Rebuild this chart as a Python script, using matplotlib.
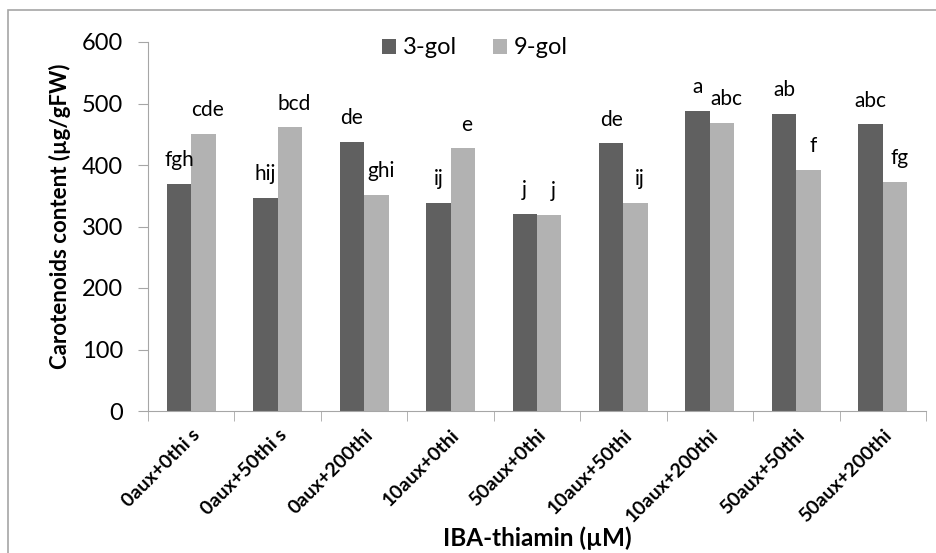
import matplotlib
matplotlib.use("Agg")
import matplotlib.pyplot as plt
from matplotlib.patches import Rectangle
import numpy as np

plt.rcParams['font.family'] = ['Lato', 'DejaVu Sans']

categories = ["0aux+0thi s", "0aux+50thi s", "0aux+200thi", "10aux+0thi", "50aux+0thi",
              "10aux+50thi", "10aux+200thi", "50aux+50thi", "50aux+200thi"]
gol3 = [369, 346, 438, 338, 321, 435, 488, 483, 466]
gol9 = [450, 461, 352, 427, 319, 338, 469, 392, 373]
letters3 = ["fgh", "hij", "de", "ij", "j", "de", "a", "ab", "abc"]
letters9 = ["cde", "bcd", "ghi", "e", "j", "ij", "abc", "f", "fg"]

dark = "#606060"
light = "#b2b2b2"
axis_grey = "#a6a6a6"

fig = plt.figure(figsize=(9.36, 5.53), dpi=100)
ax = fig.add_axes([148 / 936, 1 - 411 / 553, 778 / 936, 369 / 553])

# outer chart border (cropped on right/bottom)
fig.patches.append(Rectangle((8 / 936, -0.1), 2, 1.1 - 10 / 553, transform=fig.transFigure,
                             fill=False, edgecolor=axis_grey, lw=1.2))

x = np.arange(len(categories)) + 0.5
w = 0.283
b1 = ax.bar(x - w / 2, gol3, w, color=dark, label="3-gol")
b2 = ax.bar(x + w / 2, gol9, w, color=light, label="9-gol")

for bar, txt in zip(b1, letters3):
    ax.annotate(txt, (bar.get_x() + bar.get_width() / 2, bar.get_height()),
                xytext=(0, 10), textcoords="offset points", ha="center", va="bottom", fontsize=15)
for bar, txt in zip(b2, letters9):
    ax.annotate(txt, (bar.get_x() + bar.get_width() / 2 + 0.05, bar.get_height()),
                xytext=(0, 10), textcoords="offset points", ha="center", va="bottom", fontsize=15)

ax.set_xlim(0, len(categories))
ax.set_ylim(0, 600)
ax.set_yticks(range(0, 601, 100))
ax.tick_params(axis="y", labelsize=17, length=7, color=axis_grey, pad=11)

ax.set_xticks(x)
ax.set_xticklabels(categories, rotation=45, ha="right", rotation_mode="anchor",
                   fontsize=14, fontweight="bold")
ax.set_xticks(np.arange(len(categories) + 1), minor=True)
ax.tick_params(axis="x", which="major", length=0, pad=11)
ax.tick_params(axis="x", which="minor", length=7, color=axis_grey)

for s in ["top", "right"]:
    ax.spines[s].set_visible(False)
for s in ["left", "bottom"]:
    ax.spines[s].set_color(axis_grey)

ax.set_ylabel("Carotenoids content (µg/gFW)", fontsize=16, fontweight="bold")
ax.yaxis.set_label_coords(-(148 - 60) / 778, (411 - 216) / 369)
ax.yaxis.label.set_va("center")
ax.set_xlabel("IBA-thiamin (µM)", fontsize=17.5, fontweight="bold")
ax.xaxis.set_label_coords(0.5, -(538 - 411) / 369)
ax.xaxis.label.set_va("center")

ax.legend(loc="center", bbox_to_anchor=(0.42, 0.984), ncol=2, frameon=False, fontsize=17,
          handlelength=0.6, handleheight=0.6, handletextpad=0.3, columnspacing=1.5)

fig.savefig("out.png", dpi=100)
